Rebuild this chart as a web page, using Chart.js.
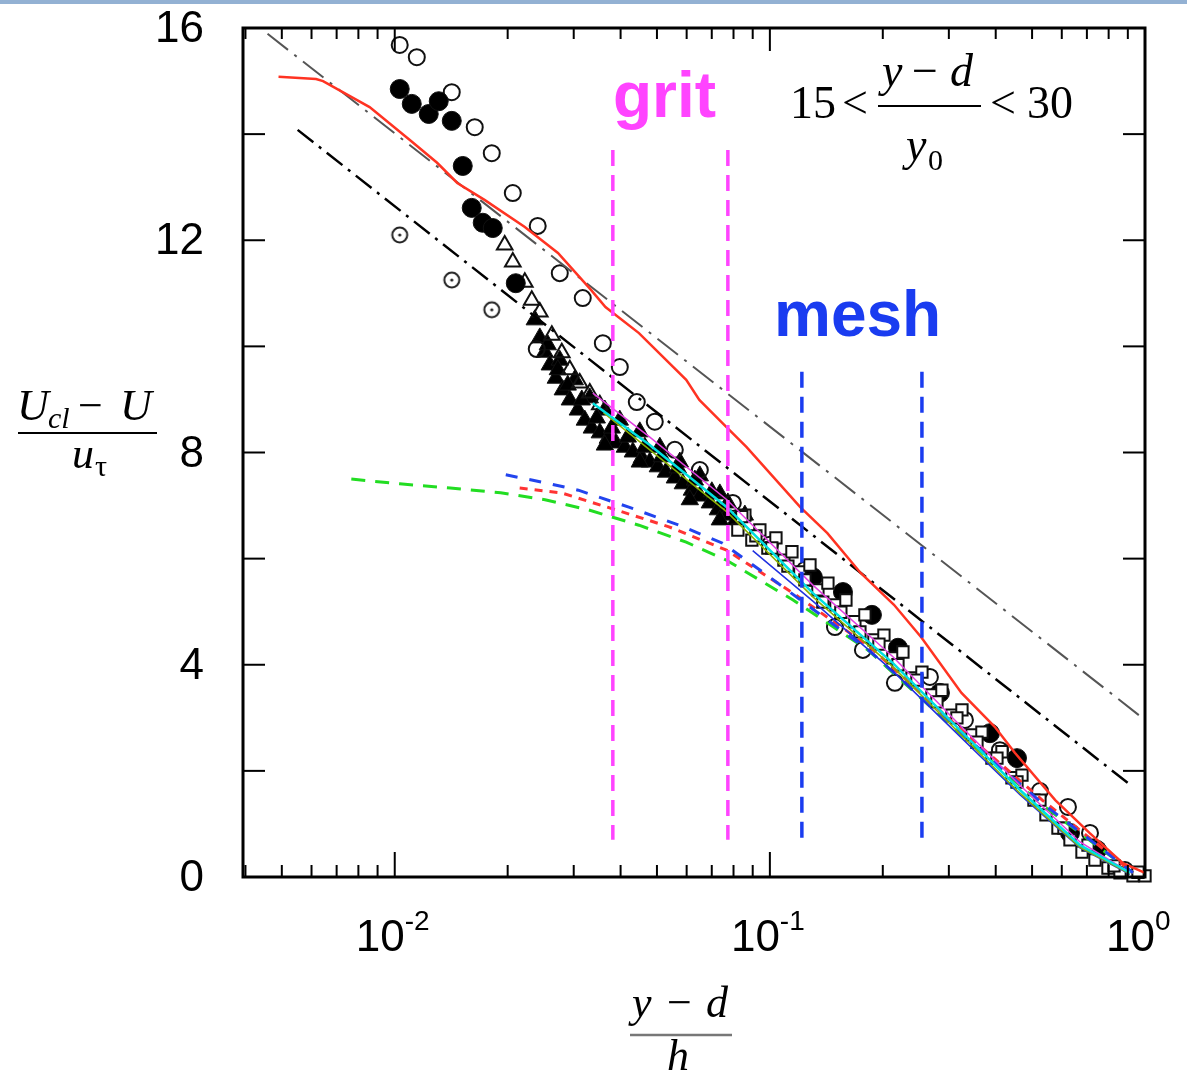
<!DOCTYPE html>
<html>
<head>
<meta charset="utf-8">
<script src="https://cdn.jsdelivr.net/npm/chart.js@4.4.1/dist/chart.umd.min.js"></script>
<style>
  body { margin: 0; background: #fff; }
  #wrap { position: absolute; left: 0; top: 0; width: 1187px; height: 1080px; }
  #topbar { position: absolute; left: 0; top: 0; width: 1187px; height: 4px; background: #93b1d3; }
</style>
</head>
<body>
<div id="wrap"><canvas id="chart" width="1187" height="1080"></canvas></div>
<div id="topbar"></div>
<script>
// axes
const xMin = 0.00394, xMax = 1.0;
const yMin = 0, yMax = 16;
const yTickValues = [0, 2, 4, 6, 8, 10, 12, 14, 16];
const yLabelValues = [0, 4, 8, 12, 16];
const xMajorTicks = [0.01, 0.1, 1];
const xTickExponents = ['-2', '-1', '0'];
const xMinorTicks = [0.004, 0.005, 0.006, 0.007, 0.008, 0.009,
    0.02, 0.03, 0.04, 0.05, 0.06, 0.07, 0.08, 0.09,
    0.2, 0.3, 0.4, 0.5, 0.6, 0.7, 0.8, 0.9];

// log-law reference lines
const grayLogX = [0.00458, 1.0];
const grayLogY = [15.89, 2.96];
const blackLogX = [0.00551, 0.9009];
const blackLogY = [14.08, 1.77];

// red solid profile
const redX = [0.0049, 0.00617, 0.00644, 0.00857, 0.01097, 0.01297, 0.01468, 0.01735, 0.02222, 0.02723,
    0.0334, 0.03645, 0.04477, 0.05984, 0.06486, 0.07663, 0.0867, 0.1205, 0.1423, 0.1746,
    0.2142, 0.2532, 0.3242, 0.3976, 0.4498, 0.5764, 0.7112, 0.873, 1.0];
const redY = [15.08, 15.04, 15.0, 14.51, 13.89, 13.46, 13.08, 12.76, 12.25, 11.76,
    11.06, 10.74, 10.25, 9.37, 8.99, 8.48, 8.10, 6.97, 6.48, 5.73,
    5.13, 4.52, 3.47, 2.83, 2.34, 1.45, 0.83, 0.26, 0.08];

// colored dashed profiles
const greenDashX = [0.00766, 0.01031, 0.01406, 0.01915, 0.02516, 0.03281, 0.04477, 0.05984, 0.07663, 0.1153, 0.1824, 0.3242, 0.5322, 0.929];
const greenDashY = [7.50, 7.41, 7.33, 7.24, 7.11, 6.92, 6.63, 6.31, 5.97, 5.22, 4.28, 2.68, 1.36, 0.08];
const redDashX = [0.02153, 0.02778, 0.03882, 0.05383, 0.07663, 0.1153, 0.1858, 0.3242, 0.5322, 0.929];
const redDashY = [7.33, 7.24, 6.92, 6.60, 6.16, 5.35, 4.32, 2.77, 1.45, 0.08];
const blueDashX = [0.01977, 0.02516, 0.03086, 0.04207, 0.05727, 0.07482, 0.09817, 0.1858, 0.3242, 0.5322, 0.929];
const blueDashY = [7.58, 7.43, 7.29, 6.97, 6.63, 6.29, 5.69, 4.24, 2.71, 1.39, 0.08];

// thin solid profiles along the collapse
const cyanX = [0.03373, 0.04786, 0.07679, 0.1302, 0.2128, 0.3211, 0.4642, 0.671, 0.912];
const cyanY = [8.93, 8.14, 6.97, 5.35, 4.03, 2.77, 1.64, 0.60, 0.08];
const magentaX = [0.03373, 0.04786, 0.07679, 0.1302, 0.2128, 0.3211, 0.4642, 0.671, 0.912];
const magentaY = [9.12, 8.29, 7.11, 5.50, 4.15, 2.86, 1.73, 0.66, 0.08];
const oliveX = [0.036, 0.04786, 0.07679, 0.1302, 0.2128, 0.3211, 0.4642, 0.671, 0.912];
const oliveY = [8.75, 8.05, 6.88, 5.28, 3.96, 2.70, 1.58, 0.56, 0.06];
const blueThinX = [0.09, 0.1302, 0.2128, 0.3211, 0.4642, 0.671, 0.912];
const blueThinY = [6.15, 5.20, 3.88, 2.65, 1.55, 0.55, 0.05];

// vertical markers
const gritX = [0.03814, 0.07727];
const gritY = [13.70, 0.70];
const meshX = [0.1217, 0.2543];
const meshY = [9.52, 0.60];

// symbols
const openCircleX = [0.01031, 0.01145, 0.01419, 0.01634, 0.01814, 0.02064, 0.02405, 0.02754, 0.03171, 0.03587,
    0.03981, 0.04418, 0.04934, 0.0558, 0.06506, 0.07964, 0.1, 0.124, 0.1491, 0.177,
    0.2154, 0.2671, 0.3311, 0.4105, 0.5248, 0.6232, 0.7135, 0.8843, 0.02391];
const openCircleY = [15.68, 15.45, 14.79, 14.13, 13.64, 12.89, 12.27, 11.38, 10.91, 10.06,
    9.61, 8.95, 8.58, 8.05, 7.67, 7.05, 6.26, 5.79, 4.71, 4.28,
    3.66, 3.77, 2.96, 2.39, 1.62, 1.32, 0.83, 0.13, 9.95];
const filledCircleX = [0.01031, 0.0111, 0.01232, 0.0131, 0.01419, 0.01518, 0.01604, 0.01716, 0.01825, 0.02102,
    0.1302, 0.1566, 0.1871, 0.2195, 0.284, 0.3861, 0.4557, 0.631, 0.7447];
const filledCircleY = [14.85, 14.57, 14.38, 14.62, 14.25, 13.40, 12.61, 12.33, 12.23, 11.19,
    5.65, 5.37, 4.94, 4.32, 3.47, 2.71, 2.24, 0.83, 0.51];
const dotCircleX = [0.01031, 0.01419, 0.01814];
const dotCircleY = [12.10, 11.25, 10.69];
const openTriangleX = [0.01964, 0.02064, 0.02222, 0.02319, 0.02436, 0.02623, 0.02788, 0.02929, 0.03113, 0.03311, 0.03521];
const openTriangleY = [11.91, 11.59, 11.21, 10.87, 10.65, 10.21, 9.88, 9.56, 9.31, 9.12, 8.90];
const filledTriangleX = [0.02362, 0.02436, 0.02512, 0.0259, 0.02687, 0.02805, 0.02929, 0.03076, 0.03211, 0.03352,
    0.03521, 0.03698, 0.03884, 0.04105, 0.04312, 0.04558, 0.04786, 0.05027, 0.05281, 0.0558,
    0.05861, 0.06194, 0.06506, 0.06918, 0.07266, 0.07679, 0.08117,
    0.02754, 0.0302, 0.03311, 0.03631, 0.03981, 0.045, 0.05089, 0.05754, 0.06506, 0.07356,
    0.02559, 0.02721, 0.02892, 0.03152, 0.03456, 0.0379, 0.04181, 0.04642, 0.05152, 0.05683,
    0.0631, 0.07003, 0.07727, 0.08577,
    0.03631, 0.045, 0.06118, 0.07356];
const filledTriangleY = [10.50, 10.16, 9.89, 9.65, 9.40, 9.18, 8.99, 8.80, 8.61, 8.46,
    8.37, 8.27, 8.18, 8.10, 8.01, 7.90, 7.82, 7.73, 7.63, 7.52,
    7.41, 7.29, 7.18, 7.05, 6.92, 6.82, 6.73,
    9.74, 9.37, 9.03, 8.80, 8.61, 8.39, 8.10, 7.82, 7.56, 7.22,
    10.03, 9.56, 9.27, 8.99, 8.65, 8.46, 8.29, 8.10, 7.92, 7.71,
    7.48, 7.26, 7.05, 6.82,
    8.14, 7.82, 7.11, 6.73];
const openSquareX = [0.08216, 0.08577, 0.08954, 0.09404, 0.09878, 0.1038, 0.109, 0.1145, 0.1202, 0.1279,
    0.1343, 0.1428, 0.15, 0.1595, 0.1685, 0.1792, 0.1894, 0.2014, 0.2128, 0.2263,
    0.2392, 0.2543, 0.2704, 0.2875, 0.3057, 0.3251, 0.3457, 0.3675, 0.3908, 0.4156,
    0.4419, 0.4699, 0.5058, 0.5445, 0.5861, 0.631, 0.6792, 0.7356, 0.7967, 0.8577, 0.929, 1.0,
    0.08418, 0.09177, 0.1012, 0.1117, 0.124, 0.1384, 0.1546, 0.1738, 0.1953, 0.2195,
    0.2466, 0.2788, 0.3152, 0.3565, 0.403, 0.4557, 0.5248, 0.6081, 0.7047, 0.8267, 0.9579];
const openSquareY = [6.54, 6.82, 6.35, 6.54, 6.20, 6.39, 5.97, 6.13, 5.75, 5.88,
    5.41, 5.54, 5.13, 5.22, 4.81, 4.94, 4.47, 4.56, 4.13, 4.24,
    3.75, 3.86, 3.43, 3.52, 3.05, 3.15, 2.68, 2.73, 2.24, 2.36,
    1.87, 1.92, 1.45, 1.17, 0.92, 0.70, 0.47, 0.32, 0.17, 0.08, 0.02, 0.02,
    6.79, 6.43, 6.20, 5.86, 5.60, 5.18, 4.99, 4.62, 4.39, 4.00,
    3.71, 3.30, 3.00, 2.54, 2.24, 1.79, 1.45, 0.92, 0.60, 0.21, 0.09];

const pts = (xs, ys) => xs.map((x, i) => ({ x: x, y: ys[i] }));

// circle with a dot in the middle
const dotCircle = document.createElement('canvas');
dotCircle.width = 20;
dotCircle.height = 20;
(() => {
    const c = dotCircle.getContext('2d');
    c.strokeStyle = '#222';
    c.lineWidth = 2;
    c.beginPath();
    c.arc(10, 10, 7.5, 0, Math.PI * 2);
    c.stroke();
    c.fillStyle = '#222';
    c.beginPath();
    c.arc(10, 10, 1.6, 0, Math.PI * 2);
    c.fill();
})();

const lineSet = (data, color, width, dash) => ({
    data: data,
    showLine: true,
    borderColor: color,
    borderWidth: width,
    borderDash: dash || [],
    pointRadius: 0,
    fill: false,
    tension: 0
});

const markerSet = (data, style, radius, fillColor, border) => ({
    data: data,
    showLine: false,
    pointStyle: style,
    pointRadius: radius,
    pointBackgroundColor: fillColor,
    pointBorderColor: '#111',
    pointBorderWidth: border,
    clip: false
});

const axesPlugin = {
    id: 'axesPlugin',
    afterDraw(chart) {
        const { ctx, chartArea: a, scales: { x, y } } = chart;
        const seg = (x1, y1, x2, y2) => {
            ctx.beginPath();
            ctx.moveTo(x1, y1);
            ctx.lineTo(x2, y2);
            ctx.stroke();
        };
        ctx.save();
        ctx.strokeStyle = '#000';
        ctx.lineWidth = 2;
        yTickValues.forEach(v => {
            const py = y.getPixelForValue(v);
            seg(a.left, py, a.left + 22, py);
            seg(a.right, py, a.right - 22, py);
        });
        xMinorTicks.forEach(v => {
            const px = x.getPixelForValue(v);
            seg(px, a.bottom, px, a.bottom - 12);
            seg(px, a.top, px, a.top + 11);
        });
        xMajorTicks.forEach(v => {
            const px = x.getPixelForValue(v);
            seg(px, a.bottom, px, a.bottom - 25);
            seg(px, a.top, px, a.top + 23);
        });
        ctx.lineWidth = 3;
        ctx.strokeRect(a.left, a.top, a.right - a.left, a.bottom - a.top);

        // tick labels
        ctx.fillStyle = '#000';
        ctx.font = '44px "Liberation Sans", Arial, sans-serif';
        ctx.textAlign = 'right';
        ctx.textBaseline = 'middle';
        yLabelValues.forEach(v => {
            ctx.fillText(String(v), 204, y.getPixelForValue(v) + 2);
        });
        ctx.textBaseline = 'alphabetic';
        xMajorTicks.forEach((v, i) => {
            const px = x.getPixelForValue(v);
            ctx.font = '44px "Liberation Sans Narrow", "Liberation Sans", Arial, sans-serif';
            ctx.textAlign = 'right';
            ctx.fillText('10', px + 10, 951);
            ctx.font = '28px "Liberation Sans Narrow", "Liberation Sans", Arial, sans-serif';
            ctx.textAlign = 'left';
            ctx.fillText(xTickExponents[i], px + 10, 930);
        });

        // y axis title
        ctx.textAlign = 'left';
        ctx.font = 'italic 44px "Liberation Serif", "Times New Roman", serif';
        ctx.fillText('U', 17, 420);
        ctx.font = 'italic 30px "Liberation Serif", "Times New Roman", serif';
        ctx.fillText('cl', 48, 428);
        ctx.font = '44px "Liberation Serif", "Times New Roman", serif';
        ctx.fillText('\u2212', 78, 420);
        ctx.font = 'italic 44px "Liberation Serif", "Times New Roman", serif';
        ctx.fillText('U', 120, 420);
        ctx.fillText('u', 72, 468);
        ctx.font = '30px "Liberation Serif", "Times New Roman", serif';
        ctx.fillText('\u03c4', 95, 476);
        ctx.lineWidth = 2;
        seg(18, 433, 157, 433);

        // x axis title
        ctx.font = 'italic 44px "Liberation Serif", "Times New Roman", serif';
        ctx.fillText('y', 632, 1017);
        ctx.fillText('d', 706, 1017);
        ctx.fillText('h', 667, 1070);
        ctx.font = '44px "Liberation Serif", "Times New Roman", serif';
        ctx.fillText('\u2212', 667, 1017);
        ctx.strokeStyle = '#777';
        ctx.lineWidth = 2.5;
        seg(630, 1035, 732, 1035);

        // range annotation
        ctx.strokeStyle = '#000';
        ctx.font = '46px "Liberation Serif", "Times New Roman", serif';
        ctx.fillText('15', 790, 118);
        ctx.fillText('<', 842, 118);
        ctx.fillText('<', 990, 118);
        ctx.fillText('30', 1027, 118);
        ctx.font = 'italic 46px "Liberation Serif", "Times New Roman", serif';
        ctx.fillText('y', 882, 86);
        ctx.fillText('d', 950, 86);
        ctx.fillText('y', 906, 160);
        ctx.font = '46px "Liberation Serif", "Times New Roman", serif';
        ctx.fillText('\u2212', 912, 86);
        ctx.font = '30px "Liberation Serif", "Times New Roman", serif';
        ctx.fillText('0', 928, 170);
        ctx.lineWidth = 2;
        seg(878, 106, 981, 106);

        // region labels
        ctx.font = 'bold 64px "Liberation Sans", Arial, sans-serif';
        ctx.fillStyle = '#ff44ff';
        ctx.fillText('grit', 613, 117);
        ctx.fillStyle = '#1a3cf0';
        ctx.fillText('mesh', 774, 336);
        ctx.restore();
    }
};

new Chart(document.getElementById('chart'), {
    type: 'scatter',
    data: {
        datasets: [
            lineSet(pts([gritX[0], gritX[0]], gritY), '#ff44ff', 3.5, [16, 9]),
            lineSet(pts([gritX[1], gritX[1]], gritY), '#ff44ff', 3.5, [16, 9]),
            lineSet(pts([meshX[0], meshX[0]], meshY), '#1a3cf0', 3.5, [16, 9]),
            lineSet(pts([meshX[1], meshX[1]], meshY), '#1a3cf0', 3.5, [16, 9]),
            lineSet(pts(cyanX, cyanY), '#00e0e0', 2.5),
            lineSet(pts(magentaX, magentaY), '#e040e0', 1.5),
            lineSet(pts(oliveX, oliveY), '#8ab000', 1.5),
            lineSet(pts(blueThinX, blueThinY), '#2030e0', 1.5),
            lineSet(pts(redX, redY), '#ff3322', 2.5),
            lineSet(pts(grayLogX, grayLogY), '#555555', 2, [26, 8, 3, 8]),
            lineSet(pts(blackLogX, blackLogY), '#000000', 2.5, [20, 7, 3, 7]),
            lineSet(pts(blueDashX, blueDashY), '#2244ee', 3, [12, 12]),
            lineSet(pts(redDashX, redDashY), '#ff3333', 3, [8, 7]),
            lineSet(pts(greenDashX, greenDashY), '#22dd22', 3, [14, 10]),
            markerSet(pts(openSquareX, openSquareY), 'rect', 8, '#ffffff', 2),
            markerSet(pts(filledCircleX, filledCircleY), 'circle', 9.5, '#000', 1),
            markerSet(pts(openCircleX, openCircleY), 'circle', 8, 'rgba(255,255,255,0)', 2),
            markerSet(pts(dotCircleX, dotCircleY), dotCircle, 8, 'rgba(0,0,0,0)', 0),
            markerSet(pts(openTriangleX, openTriangleY), 'triangle', 9, 'rgba(255,255,255,0)', 2),
            markerSet(pts(filledTriangleX, filledTriangleY), 'triangle', 10, '#000', 1)
        ]
    },
    options: {
        responsive: false,
        devicePixelRatio: 1,
        animation: false,
        layout: { padding: { left: 243, right: 42, top: 28, bottom: 203 } },
        plugins: { legend: { display: false }, tooltip: { enabled: false } },
        scales: {
            x: { type: 'logarithmic', min: xMin, max: xMax, display: false },
            y: { type: 'linear', min: yMin, max: yMax, display: false }
        }
    },
    plugins: [axesPlugin]
});
</script>
</body>
</html>
